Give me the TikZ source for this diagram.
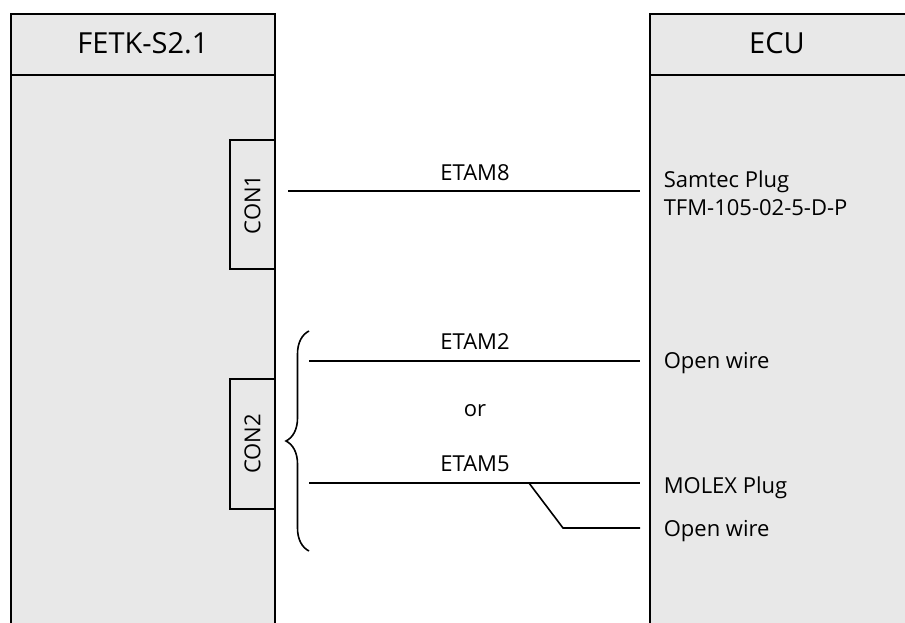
\documentclass[tikz,border=0pt]{standalone}
\usepackage{fontspec}
\setmainfont{Open Sans}
\usetikzlibrary{decorations.pathreplacing}
\definecolor{panelgray}{HTML}{E8E8E8}
\begin{document}
\begin{tikzpicture}[x=1pt,y=-1pt,line width=1.6pt,
        lbl/.style={font=\fontsize{22}{28}\selectfont,inner sep=0pt,anchor=base},
        rlbl/.style={lbl,anchor=base west,align=left},
        head/.style={font=\fontsize{29}{34}\selectfont,inner sep=0pt,anchor=base},
        conbox/.style={draw,fill=panelgray,rotate=90,inner sep=0pt,minimum height=45pt,font=\fontsize{22}{28}\selectfont}]
    \useasboundingbox (0,0) rectangle (905,623);
    %% FETK
    \fill[panelgray] (11,14) rectangle (275,623);
    \draw (11,623) -- (11,14) -- (275,14) -- (275,623);
    \draw (11,75) -- (275,75);
    \node[head] (fetk) at (143,54) {FETK-S2.1};
    \node[conbox,minimum width=129pt] (con1) at (252.5,204.5) {CON1};
    \node[conbox,minimum width=130pt] (con2) at (252.5,444) {CON2};
    %% ECU
    \fill[panelgray] (650,14) rectangle (905,623);
    \draw (905,14) -- (650,14) -- (650,623);
    \draw (650,75) -- (905,75);
    \node[head] (ecu) at (777,54) {ECU};
    %% wire ends
    \coordinate (w8a) at (288,191);
    \coordinate (w8b) at (640,191);
    \coordinate (w2a) at (309,361);
    \coordinate (w2b) at (640,361);
    \coordinate (w5a) at (309,483);
    \coordinate (w5b) at (640,483);
    \coordinate (w5k) at (529,483);
    \coordinate (w5c) at (563,528);
    \coordinate (w5d) at (640,528);
    %% wires
    \draw (w8a) -- (w8b);
    \draw (w2a) -- (w2b);
    \draw (w5a) -- (w5b);
    \draw (w5k) -- (w5c) -- (w5d);
    \draw[decorate,decoration={brace,amplitude=23pt}] (309,551) -- (309,331);
    %% labels
    \node[lbl] (etam8) at (475,180) {ETAM8};
    \node[lbl] (etam2) at (475,349) {ETAM2};
    \node[lbl] (or) at (475,416) {or};
    \node[lbl] (etam5) at (475,471) {ETAM5};
    \node[rlbl] (samtec) at (663,187) {Samtec Plug};
    \node[rlbl] (tfm) at (663,215) {TFM-105-02-5-D-P};
    \node[rlbl] (open1) at (663,368) {Open wire};
    \node[rlbl] (molex) at (663,493) {MOLEX Plug};
    \node[rlbl] (open2) at (663,536) {Open wire};
\end{tikzpicture}
\end{document}
